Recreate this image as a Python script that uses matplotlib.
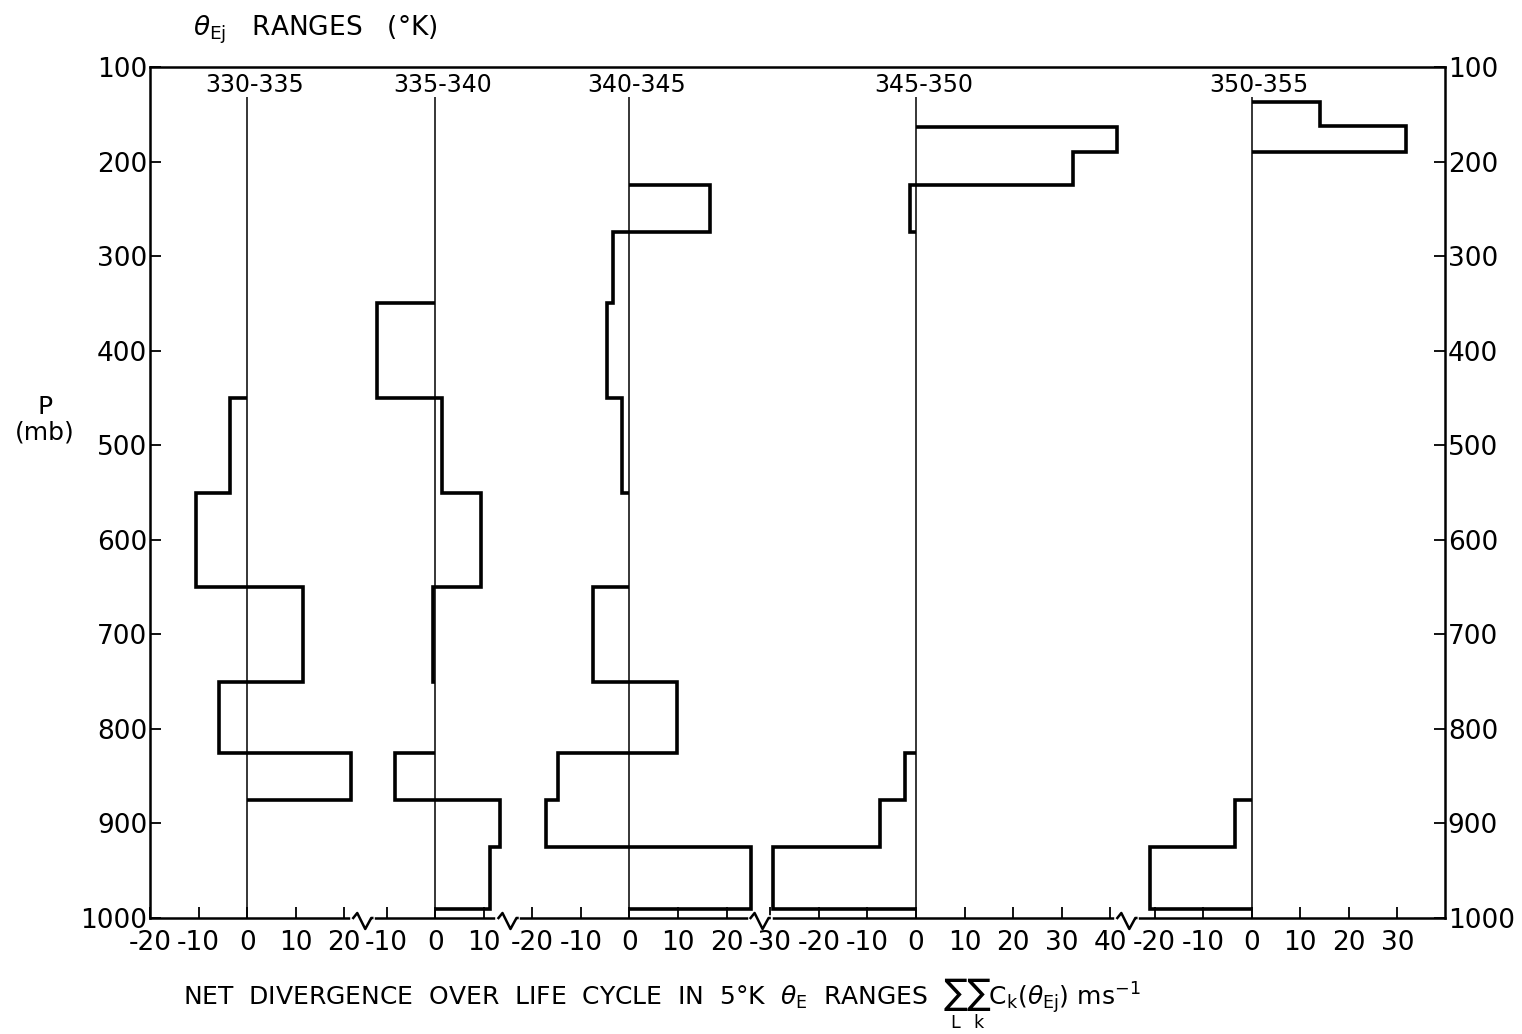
import numpy as np
import matplotlib.pyplot as plt
from matplotlib.lines import Line2D

plt.rcParams['font.family'] = ['DejaVu Sans']
plt.rcParams['axes.unicode_minus'] = False  # plain hyphen as minus
plt.rcParams['mathtext.default'] = 'regular'

W, H = 1522, 1034

# theta_E ranges (K), one panel each
ranges = ['330-335', '335-340', '340-345', '345-350', '350-355']

# layer edges (mb) and net divergence per layer (ms-1); nan = no layer
edges_1 = [450, 550, 650, 750, 825, 875]
div_1 = [-3.5, -10.5, 11.5, -5.8, 21.3]

edges_2 = [350, 450, 550, 650, 750, 825, 875, 925, 990]
div_2 = [-12, 1.5, 9.5, -0.4, np.nan, -8.2, 13.3, 11.2]

edges_3 = [225, 275, 350, 450, 550, 650, 750, 825, 875, 925, 990]
div_3 = [16.5, -3.3, -4.6, -1.5, np.nan, -7.6, 9.7, -14.8, -17.1, 25]

edges_4 = [163, 190, 225, 275, 825, 875, 925, 990]
div_4 = [41.3, 32.3, -1.3, np.nan, -2.3, -7.5, -29.5]

edges_5 = [137, 162, 190, 875, 925, 990]
div_5 = [14.1, 31.8, np.nan, -3.5, -21]

edges = [edges_1, edges_2, edges_3, edges_4, edges_5]
divs = [div_1, div_2, div_3, div_4, div_5]

# x ticks of each panel
xticks = [[-20, -10, 0, 10, 20],
          [-10, 0, 10],
          [-20, -10, 0, 10, 20],
          [-30, -20, -10, 0, 10, 20, 30, 40],
          [-20, -10, 0, 10, 20, 30]]
p_ticks = list(range(100, 1001, 100))

# visible x range of each panel (broken axis)
xlims = [(-20, 23.9), (-14.8, 15.1), (-24.9, 27), (-32, 43.5), (-25.6, 39.8)]

fig = plt.figure(figsize=(W / 100, H / 100), dpi=100)
gs = fig.add_gridspec(1, 5, width_ratios=[b - a for a, b in xlims], wspace=0,
                      left=150 / W, right=1445 / W, top=1 - 67 / H, bottom=1 - 918 / H)
axes = []
for i in range(5):
    ax = fig.add_subplot(gs[0, i], sharey=axes[0] if axes else None)
    axes.append(ax)

for i, ax in enumerate(axes):
    ax.set_xlim(*xlims[i])
    ax.set_ylim(1000, 100)
    # zero line
    ax.vlines(0, 132, 1000, color='k', lw=1.1)
    ax.stairs(divs[i], edges[i], orientation='horizontal', baseline=0,
              color='k', lw=2.6)
    ax.text(1.5, 119, ranges[i], ha='center', va='center', fontsize=17)

    ax.set_xticks(xticks[i])
    ax.set_xticklabels([str(t) for t in xticks[i]])
    ax.tick_params(axis='x', direction='in', length=8, width=1.3, pad=8.5,
                   labelsize=19)
    for s in ['bottom', 'left', 'right']:
        ax.spines[s].set_linewidth(1.8)
    ax.spines['top'].set_visible(False)
    if i > 0:
        ax.spines['left'].set_visible(False)
    if i < 4:
        ax.spines['right'].set_visible(False)
    ax.tick_params(axis='y', direction='in', length=8, width=1.3, pad=2,
                   labelsize=19, left=False, labelleft=False)

axes[0].set_yticks(p_ticks)
axes[0].tick_params(axis='y', left=True, labelleft=True)
axes[4].tick_params(axis='y', right=True, labelright=True)

# one continuous top frame line
p0, p4 = axes[0].get_position(), axes[4].get_position()
fig.add_artist(Line2D([p0.x0, p4.x1], [p0.y1, p0.y1], color='k', lw=1.8,
                      solid_capstyle='projecting', transform=fig.transFigure))

# break marks on the bottom axis
for ax in axes[:-1]:
    pos = ax.get_position()
    x0, y0 = pos.x1 * W, pos.y0 * H
    fig.add_artist(Line2D([(x0 - 10) / W, (x0 + 9) / W], [y0 / H, y0 / H],
                          color='white', lw=4, transform=fig.transFigure))
    zx = np.array([-10, -6, 2, 8, 9])
    zy = np.array([0, 5, -11, 0, 0])
    fig.add_artist(Line2D((x0 + zx) / W, (y0 + zy) / H, color='k', lw=1.8,
                          transform=fig.transFigure))

fig.text(193 / W, 1 - 30 / H, r'$\mathit{\theta}_{Ej}$   RANGES   (°K)',
         fontsize=19, ha='left', va='center')
fig.text(45 / W, 1 - 420 / H, 'P\n(mb)', fontsize=18, ha='center', va='center',
         multialignment='center', linespacing=1.1)
fig.text(662 / W, 1 - 1004 / H,
         r'NET  DIVERGENCE  OVER  LIFE  CYCLE  IN  5°K  $\mathit{\theta}_E$  RANGES  '
         r'$\sum_L\sum_k C_k(\mathit{\theta}_{Ej})\ ms^{-1}$',
         fontsize=18, ha='center', va='center')

fig.savefig('out.png', dpi=100)
